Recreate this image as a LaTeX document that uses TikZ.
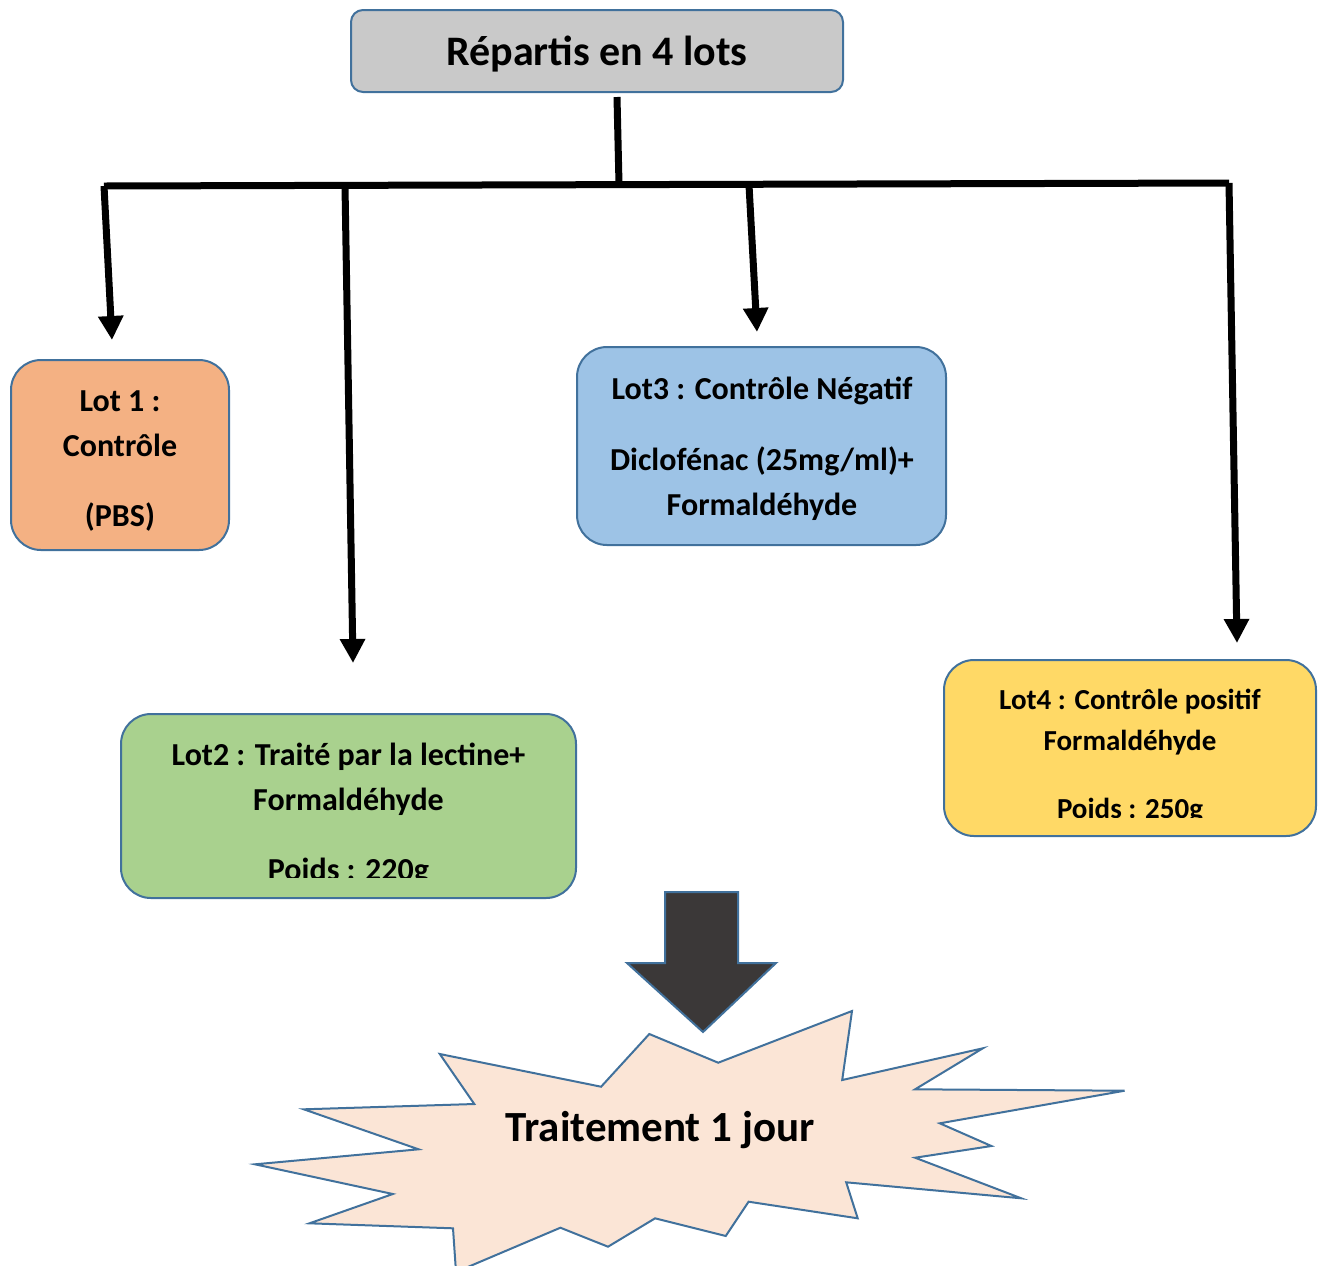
\documentclass[tikz,border=0pt]{standalone}
\usepackage{fontspec}
\setmainfont{Carlito}
\usetikzlibrary{arrows.meta}
\definecolor{bordblue}{HTML}{41719C}
\definecolor{titlegray}{HTML}{C9C9C9}
\definecolor{lotorange}{HTML}{F4B183}
\definecolor{lotgreen}{HTML}{A9D18E}
\definecolor{lotblue}{HTML}{9DC3E6}
\definecolor{lotyellow}{HTML}{FFD966}
\definecolor{burstpink}{HTML}{FBE5D6}
\definecolor{bigarrow}{HTML}{3B3838}
\tikzset{
	lotbox/.style={draw=bordblue,line width=1pt,rounded corners=15pt,inner sep=0pt,align=center},
	lottext/.style={inner sep=0pt,align=center,font=\fontsize{16}{22.5}\selectfont\bfseries},
	branch/.style={line width=3.5pt},
	brancharrow/.style={line width=3.5pt,-{Triangle[width=12pt,length=12pt]}}
}
\begin{document}
\begin{tikzpicture}[x=0.5pt,y=-0.5pt]
			\useasboundingbox (0,0) rectangle (1323,1265);
			\node[draw=bordblue,fill=titlegray,line width=1pt,rounded corners=6pt,minimum width=246pt,minimum height=41pt,text depth=0pt,font=\fontsize{21}{25}\selectfont\bfseries] (title) at (597,51) {Répartis en 4 lots};
			\node[lotbox,fill=lotorange,minimum width=109pt,minimum height=95pt] (lot1) at (120,455) {};
			\node[lottext] (lot1text) at (120,461) {Lot 1 :\\Contrôle\\[12.5pt](PBS)};
			\node[lotbox,fill=lotgreen,minimum width=227.5pt,minimum height=92pt] (lot2) at (348.5,806) {};
			\begin{scope}
				\clip (121,714) rectangle (576,877);
				\node[lottext] (lot2text) at (348.5,814) {Lot2 : Traité par la lectine+\\Formaldéhyde\\[12.5pt]Poids : 220g};
			\end{scope}
			\node[lotbox,fill=lotblue,minimum width=184.5pt,minimum height=99pt] (lot3) at (761.5,446) {};
			\node[lottext] (lot3text) at (762,448.5) {Lot3 : Contrôle Négatif\\[13pt]Diclofénac (25mg/ml)+\\Formaldéhyde};
			\node[lotbox,fill=lotyellow,minimum width=186pt,minimum height=88pt] (lot4) at (1130,748) {};
			\begin{scope}
				\clip (944,660) rectangle (1316,817);
				\node[lottext,font=\fontsize{14.5}{20.5}\selectfont\bfseries] (lot4text) at (1130,756) {Lot4 : Contrôle positif\\Formaldéhyde\\[13.5pt]Poids : 250g};
			\end{scope}
			\coordinate (hub) at (619,184);
			\coordinate (barL) at (104,186);
			\coordinate (barR) at (1229,183);
			\coordinate (b2) at (345,186);
			\coordinate (b3) at (749,185);
			\coordinate (tip1) at (112,340);
			\coordinate (tip2) at (353,663);
			\coordinate (tip3) at (757,332);
			\coordinate (tip4) at (1237,643);
			\draw[branch] ([xshift=10pt,yshift=-2pt]title.south) to (hub);
			\draw[branch] (barL) to (barR);
			\draw[brancharrow] (barL) to (tip1);
			\draw[brancharrow] (b2) to (tip2);
			\draw[brancharrow] (b3) to (tip3);
			\draw[brancharrow] (barR) to (tip4);
			\draw[draw=bordblue,fill=bigarrow,line width=1pt] (665,892) -- (738,892) -- (738,963) -- (776,963) -- (703,1032) -- (627,963) -- (665,963) -- cycle;
			\draw[draw=bordblue,fill=burstpink,line width=1pt] (649.3,1034) -- (718.2,1062.7) -- (852,1011) -- (842.2,1080) -- (982.8,1048.3) -- (915.1,1089.3) -- (1124.6,1090.7) -- (939.8,1123.3) -- (991.4,1146) -- (915.1,1157.7) -- (1021.3,1198.3) -- (846.2,1182.3) -- (857.7,1218.3) -- (748.6,1201.7) -- (725.7,1236) -- (655.1,1218.3) -- (608,1246.7) -- (560.4,1227.7) -- (456,1272) -- (453,1228.3) -- (309.5,1223.3) -- (392.8,1194) -- (255,1164.3) -- (418.6,1149.3) -- (303.8,1109.3) -- (474.3,1104) -- (439.8,1054) -- (601.1,1086.7) -- cycle;
			\node[font=\fontsize{21.5}{25}\selectfont\bfseries] (treat) at (660,1130) {Traitement 1 jour};
		\end{tikzpicture}
\end{document}
